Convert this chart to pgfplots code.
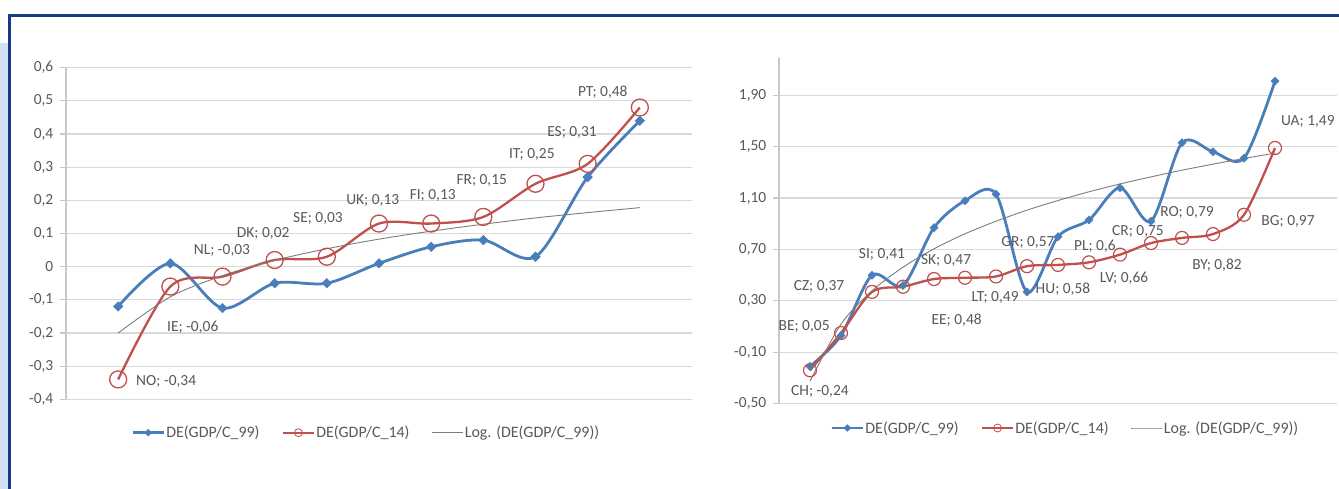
\documentclass[border=0pt]{standalone}
\usepackage{pgfplots}
\pgfplotsset{compat=1.18}
\usepackage{fontspec}
\setmainfont{Carlito}
\definecolor{navy}{RGB}{24,56,136}
\definecolor{lightblue}{RGB}{208,224,240}
\definecolor{xlblue}{RGB}{74,126,187}
\definecolor{xlred}{RGB}{192,80,77}
\definecolor{txtgray}{RGB}{89,89,89}
\definecolor{gridgray}{RGB}{217,217,217}
\definecolor{axgray}{RGB}{200,200,200}
\definecolor{trendgray}{RGB}{125,125,125}

\tikzset{lbl/.style={font=\fontsize{15.5}{18}\selectfont, text=txtgray, inner sep=0pt}}
\pgfplotsset{
  legend image code/.code={\draw[mark repeat=2, mark phase=2, #1] plot coordinates {(0bp,0bp) (15.5bp,0bp) (31bp,0bp)};},
  xlbase/.style={
    scale only axis,
    clip=false,
    axis x line*=bottom,
    axis y line*=left,
    x axis line style={draw=gridgray, line width=1.2bp, -},
    y axis line style={draw=axgray, line width=1.2bp, -},
    xtick=\empty,
    ymajorgrids,
    grid style={draw=gridgray, line width=1.2bp},
    tick align=outside,
    major tick length=6bp,
    ytick style={draw=axgray, line width=1.2bp},
    yticklabel style={font=\fontsize{15.5}{18}\selectfont, text=txtgray, inner sep=0pt, xshift=-6.5bp},
    legend columns=3,
    legend cell align=left,
    legend style={draw=none, fill=none, font=\fontsize{16}{19}\selectfont, text=txtgray,
      inner sep=0pt, nodes={inner sep=1.2bp},
      /tikz/every even column/.append style={column sep=21bp}},
  },
}

\begin{document}
\begin{tikzpicture}
\useasboundingbox (0bp,0bp) rectangle (1339bp,489bp);
\fill[white] (0bp,0bp) rectangle (1339bp,489bp);
\fill[lightblue] (0bp,0bp) rectangle (7.5bp,446bp);
\draw[navy, line width=3bp] (9.3bp,0bp) -- (9.3bp,473.7bp) -- (1339bp,473.7bp);

% ---------------- Left chart ----------------
\begin{axis}[xlbase,
  at={(66bp,89.7bp)}, anchor=south west,
  width=626bp, height=331.6bp,
  xmin=0, xmax=12, ymin=-0.4, ymax=0.6,
  ytick={-0.4,-0.3,-0.2,-0.1,0,0.1,0.2,0.3,0.4,0.5,0.6},
  yticklabels={{-0,4},{-0,3},{-0,2},{-0,1},0,{0,1},{0,2},{0,3},{0,4},{0,5},{0,6}},
  legend style={at={(0.479,-0.1007)}, anchor=center},
]
\addplot[xlblue, line width=2.8bp, smooth, mark=square*, mark size=3.4bp,
  mark options={rotate=45, fill=xlblue, draw=xlblue, line width=0.4bp},
  legend image post style={mark size=2.4bp}]
  coordinates {(1,-0.12)(2,0.01)(3,-0.125)(4,-0.05)(5,-0.05)(6,0.01)(7,0.06)(8,0.08)(9,0.03)(10,0.27)(11,0.44)};
\addlegendentry{DE(GDP/C\_99)}
\addplot[xlred, line width=2.3bp, smooth, mark=o, mark size=8.5bp,
  mark options={line width=1.3bp},
  legend image post style={mark size=4bp, mark options={line width=0.8bp}}]
  coordinates {(1,-0.34)(2,-0.06)(3,-0.03)(4,0.02)(5,0.03)(6,0.13)(7,0.13)(8,0.15)(9,0.25)(10,0.31)(11,0.48)};
\addlegendentry{DE(GDP/C\_14)}
\addplot[trendgray, line width=0.9bp, smooth]
  coordinates {(1,-0.200)(2,-0.091)(3,-0.027)(4,0.019)(5,0.054)(6,0.083)(7,0.107)(8,0.128)(9,0.147)(10,0.163)(11,0.178)};
\addlegendentry{Log. (DE(GDP/C\_99))}

\node[lbl] at (axis cs:1.92,-0.346) {NO; -0,34};
\node[lbl] at (axis cs:2.43,-0.184) {IE; -0,06};
\node[lbl] at (axis cs:2.99,0.048) {NL; -0,03};
\node[lbl] at (axis cs:3.78,0.099) {DK; 0,02};
\node[lbl] at (axis cs:4.83,0.145) {SE; 0,03};
\node[lbl] at (axis cs:5.88,0.199) {UK; 0,13};
\node[lbl] at (axis cs:7.03,0.214) {FI; 0,13};
\node[lbl] at (axis cs:7.97,0.259) {FR; 0,15};
\node[lbl] at (axis cs:8.93,0.337) {IT; 0,25};
\node[lbl] at (axis cs:9.70,0.404) {ES; 0,31};
\node[lbl] at (axis cs:10.29,0.527) {PT; 0,48};
\end{axis}

% ---------------- Right chart ----------------
\begin{axis}[xlbase,
  at={(779bp,85.3bp)}, anchor=south west,
  width=558bp, height=345.7bp,
  xmin=0, xmax=18, ymin=-0.5, ymax=2.19,
  ytick={-0.5,-0.1,0.3,0.7,1.1,1.5,1.9},
  yticklabels={{-0,50},{-0,10},{0,30},{0,70},{1,10},{1,50},{1,90}},
  legend style={at={(0.5125,-0.0703)}, anchor=center},
]
\addplot[xlblue, line width=2.8bp, smooth, mark=square*, mark size=2.9bp,
  mark options={rotate=45, fill=xlblue, draw=xlblue, line width=0.4bp},
  legend image post style={mark size=2.4bp}]
  coordinates {(1,-0.21)(2,0.03)(3,0.50)(4,0.42)(5,0.87)(6,1.08)(7,1.13)(8,0.37)(9,0.80)(10,0.93)(11,1.18)(12,0.92)(13,1.53)(14,1.46)(15,1.41)(16,2.01)};
\addlegendentry{DE(GDP/C\_99)}
\addplot[xlred, line width=2.3bp, smooth, mark=o, mark size=6.5bp,
  mark options={line width=1.2bp},
  legend image post style={mark size=4bp, mark options={line width=0.8bp}}]
  coordinates {(1,-0.24)(2,0.05)(3,0.37)(4,0.41)(5,0.47)(6,0.48)(7,0.49)(8,0.57)(9,0.58)(10,0.60)(11,0.66)(12,0.75)(13,0.79)(14,0.82)(15,0.97)(16,1.49)};
\addlegendentry{DE(GDP/C\_14)}
\addplot[trendgray, line width=0.9bp, smooth]
  coordinates {(1,-0.325)(2,0.119)(3,0.378)(4,0.562)(5,0.705)(6,0.822)(7,0.920)(8,1.006)(9,1.081)(10,1.149)(11,1.210)(12,1.265)(13,1.317)(14,1.364)(15,1.408)(16,1.450)};
\addlegendentry{Log. (DE(GDP/C\_99))}

\node[lbl] at (axis cs:1.32,-0.407) {CH; -0,24};
\node[lbl] at (axis cs:0.81,0.097) {BE; 0,05};
\node[lbl] at (axis cs:1.29,0.416) {CZ; 0,37};
\node[lbl] at (axis cs:3.32,0.665) {SI; 0,41};
\node[lbl] at (axis cs:5.39,0.613) {SK; 0,47};
\node[lbl] at (axis cs:5.73,0.151) {EE; 0,48};
\node[lbl] at (axis cs:6.97,0.325) {LT; 0,49};
\node[lbl] at (axis cs:8.03,0.751) {GR; 0,57};
\node[lbl] at (axis cs:9.16,0.393) {HU; 0,58};
\node[lbl] at (axis cs:10.19,0.722) {PL; 0,6};
\node[lbl] at (axis cs:11.13,0.478) {LV; 0,66};
\node[lbl] at (axis cs:11.58,0.838) {CR; 0,75};
\node[lbl] at (axis cs:13.16,0.986) {RO; 0,79};
\node[lbl] at (axis cs:14.13,0.579) {BY; 0,82};
\node[lbl] at (axis cs:16.42,0.916) {BG; 0,97};
\node[lbl] at (axis cs:17.06,1.695) {UA; 1,49};
\end{axis}
\end{tikzpicture}
\end{document}
